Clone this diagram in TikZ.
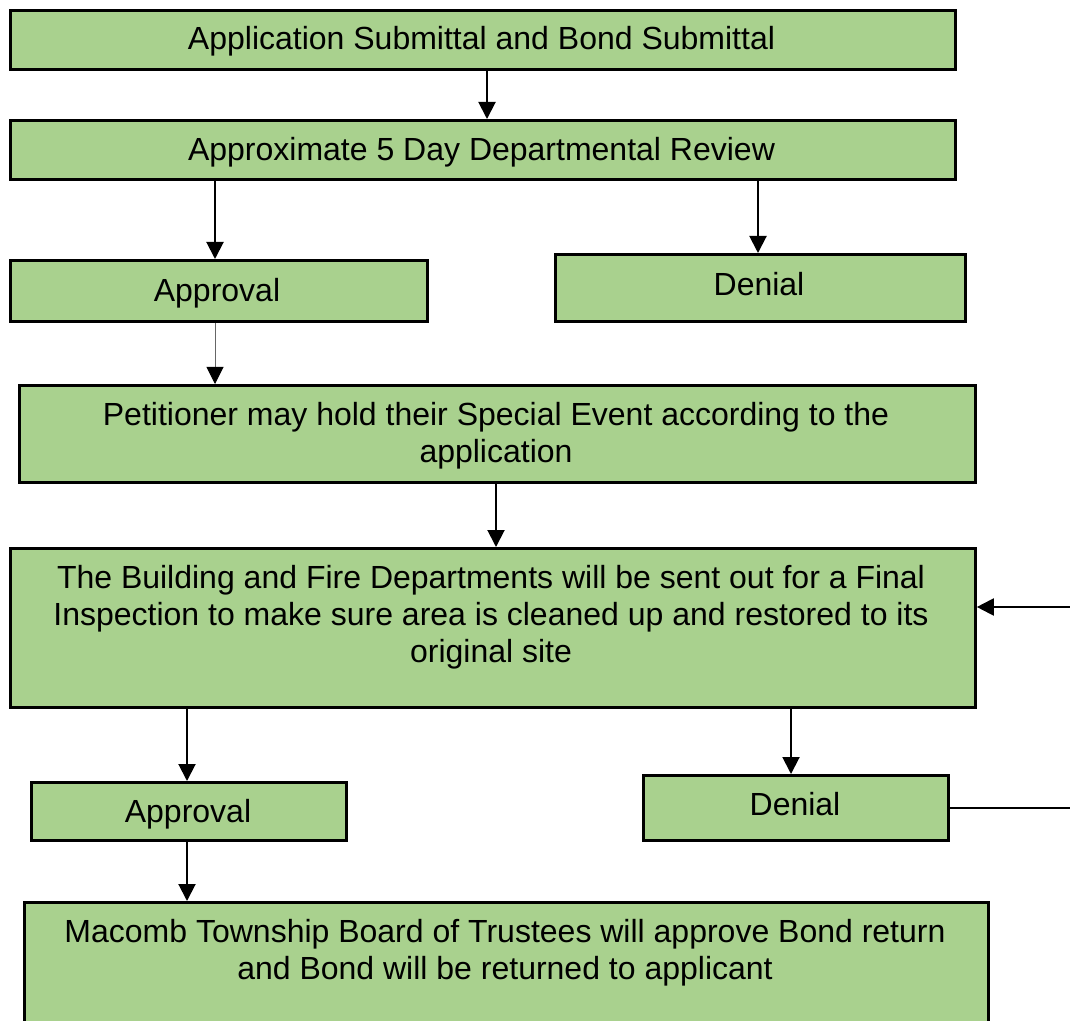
\documentclass[tikz,border=0pt]{standalone}
\usepackage{fontspec}
\setmainfont{Liberation Sans}
\usetikzlibrary{arrows.meta,calc}
\definecolor{boxgreen}{HTML}{A9D18E}
\tikzset{
  box/.style={draw=black,line width=1.4pt,fill=boxgreen,inner sep=0pt,anchor=north west},
  txt/.style={font=\fontsize{16}{18.5}\selectfont,align=center,text=black,yshift=-1.5pt},
  conn/.style={line width=1pt,-{Triangle[length=8.5pt,width=8.5pt]}},
  thinconn/.style={line width=0.5pt,draw=black!60,-{Triangle[length=8.5pt,width=8.5pt,fill=black,color=black]}},
}
\begin{document}
\begin{tikzpicture}[x=0.5pt,y=-0.5pt]
\useasboundingbox (0,0) rectangle (1070,1021);
\clip (0,0) rectangle (1070,1021);
% boxes
\node[box,minimum width=472.5pt,minimum height=29.5pt] (app) at (9,9) {};
\node[txt] at (481.5,38) {Application Submittal and Bond Submittal};
\node[box,minimum width=472.5pt,minimum height=29.5pt] (rev) at (9,119) {};
\node[txt] at (481.5,149) {Approximate 5 Day Departmental Review};
\node[box,minimum width=208.5pt,minimum height=30.5pt] (ap1) at (9,259) {};
\node[txt] at (217,290) {Approval};
\node[box,minimum width=205pt,minimum height=33.5pt] (de1) at (554,253) {};
\node[txt] at (759,281) {Denial};
\node[box,minimum width=478pt,minimum height=48.5pt] (pet) at (18,384) {};
\node[txt] at (496,432.5) {Petitioner may hold their Special Event according to the\\application};
\node[box,minimum width=482.5pt,minimum height=79.5pt] (bld) at (9,547) {};
\node[txt] at (491,614) {The Building and Fire Departments will be sent out for a Final\\Inspection to make sure area is cleaned up and restored to its\\original site};
\node[box,minimum width=157.5pt,minimum height=29pt] (ap2) at (30,781) {};
\node[txt] at (188,811) {Approval};
\node[box,minimum width=152.5pt,minimum height=32.5pt] (de2) at (642,774) {};
\node[txt] at (795,801.5) {Denial};
\node[box,minimum width=482pt,minimum height=70pt] (mac) at (23,901) {};
\node[txt] at (505,950) {Macomb Township Board of Trustees will approve Bond return\\and Bond will be returned to applicant};
% connectors
\draw[conn] ($(app.south west)+(478,0)$) -- ($(rev.north west)+(478,0)$);
\draw[conn] ($(rev.south west)+(206,0)$) -- (ap1.north west -| 215,0);
\draw[conn] ($(rev.south west)+(749,0)$) -- (de1.north west -| 758,0);
\draw[thinconn] (ap1.south west -| 215,0) -- (pet.north west -| 215,0);
\draw[conn] (pet.south west -| 496,0) -- (bld.north west -| 496,0);
\draw[conn] (bld.south west -| 187,0) -- (ap2.north west -| 187,0);
\draw[conn] (bld.south west -| 791,0) -- (de2.north west -| 791,0);
\draw[conn] (ap2.south west -| 187,0) -- (mac.north west -| 187,0);
\coordinate (r1) at (1100,808);
\coordinate (r2) at (1100,607);
\draw[conn] (de2.east |- r1) -- (r1) -- (r2) -- (bld.east |- r2);
\end{tikzpicture}
\end{document}
